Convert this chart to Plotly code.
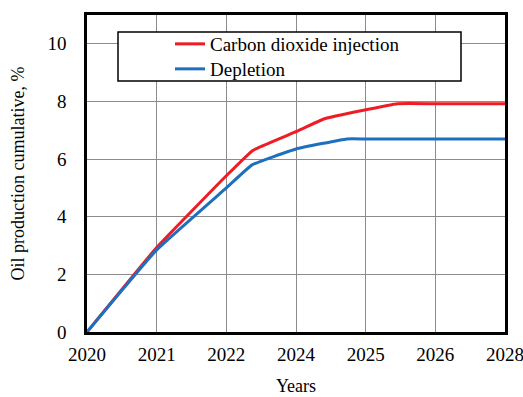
import plotly.graph_objects as go

tick_labels = ["2020", "2021", "2022", "2024", "2025", "2026", "2028"]
tick_pos = [0, 1, 2, 3, 4, 5, 6]

co2_x = [0, 1, 2, 2.38, 3, 3.41, 4.46, 5, 6]
co2_y = [0, 2.93, 5.42, 6.3, 6.95, 7.4, 7.92, 7.92, 7.92]

dep_x = [0, 1, 2, 2.37, 3, 3.73, 4, 5, 6]
dep_y = [0, 2.85, 5.0, 5.8, 6.35, 6.7, 6.7, 6.7, 6.7]

font = "Liberation Serif"

fig = go.Figure()
fig.add_trace(go.Scatter(x=co2_x, y=co2_y, mode="lines", name="Carbon dioxide injection",
                         legend="legend",
                         line=dict(color="#ee1c25", width=3, shape="spline", smoothing=0.3)))
fig.add_trace(go.Scatter(x=dep_x, y=dep_y, mode="lines", name="Depletion",
                         legend="legend2",
                         line=dict(color="#1f6fbf", width=3, shape="spline", smoothing=0.3)))

fig.add_shape(type="rect", xref="paper", yref="paper",
              x0=(118-87)/418, x1=(461-87)/418,
              y0=(332-81)/317, y1=(332-32)/317,
              line=dict(color="black", width=1.5), fillcolor="white", layer="above")

leg_common = dict(xanchor="left", yanchor="middle", bgcolor="rgba(0,0,0,0)",
                  borderwidth=0, font=dict(family=font, size=19))

fig.update_layout(
    width=531, height=415,
    margin=dict(l=87, r=26, t=15, b=83),
    paper_bgcolor="white", plot_bgcolor="white",
    font=dict(family=font, size=19, color="black"),
    showlegend=True,
    legend=dict(x=(170-87)/418, y=(332-44)/317, **leg_common),
    legend2=dict(x=(170-87)/418, y=(332-69)/317, **leg_common),
    xaxis=dict(range=[0, 6], tickmode="array", tickvals=tick_pos, ticktext=tick_labels,
               showgrid=True, gridcolor="#8c8c8c", gridwidth=1,
               showline=True, linecolor="black", linewidth=2.5, mirror=True,
               zeroline=False, ticks="", ticklabelstandoff=3, automargin="height",
               tickfont=dict(family=font, size=19),
               title=dict(text="Years", standoff=16, font=dict(family=font, size=18))),
    yaxis=dict(range=[0, 11], tickmode="array", tickvals=[0, 2, 4, 6, 8, 10],
               showgrid=True, gridcolor="#8c8c8c", gridwidth=1,
               showline=True, linecolor="black", linewidth=2.5, mirror=True,
               zeroline=False, ticks="", ticklabelstandoff=14, automargin="width",
               tickfont=dict(family=font, size=19),
               title=dict(text="Oil production cumulative, %", standoff=19, font=dict(family=font, size=18))),
)

fig.write_html("out.html", config={"displayModeBar": False},
               post_script="document.body.style.margin='0';")
